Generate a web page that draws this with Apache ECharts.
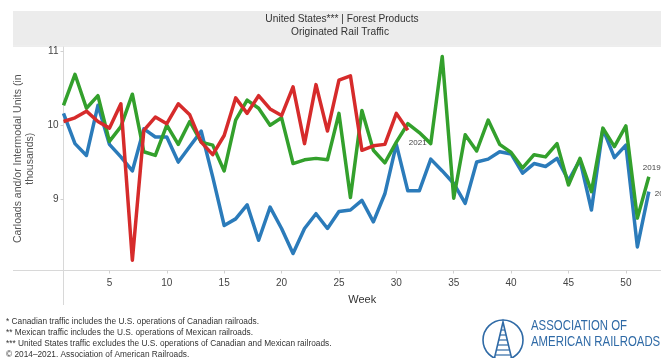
<!DOCTYPE html>
<html>
<head>
<meta charset="utf-8">
<script src="https://cdn.jsdelivr.net/npm/echarts@6/dist/echarts.min.js"></script>
<style>
html,body{margin:0;padding:0;background:#fff;}
#chart{width:661px;height:358px;}
</style>
</head>
<body>
<div id="chart"></div>
<script>
const weeks = [1,2,3,4,5,6,7,8,9,10,11,12,13,14,15,16,17,18,19,20,21,22,23,24,25,26,27,28,29,30,31,32,33,34,35,36,37,38,39,40,41,42,43,44,45,46,47,48,49,50,51,52];
const xTicks = [5,10,15,20,25,30,35,40,45,50];
const yTicks = [9,10,11];
const v2019 = [10.27,10.69,10.23,10.40,9.78,9.98,10.42,9.64,9.59,10.00,9.74,10.05,9.77,9.73,9.38,10.07,10.34,10.23,10.00,10.10,9.48,9.53,9.55,9.53,10.16,9.02,10.20,9.66,9.49,9.77,10.02,9.90,9.75,10.93,9.01,9.87,9.65,10.07,9.74,9.63,9.42,9.60,9.57,9.75,9.19,9.55,9.10,9.96,9.71,9.99,8.74,9.30];
const v2020 = [10.16,9.75,9.59,10.27,9.74,9.57,9.38,9.95,9.84,9.84,9.50,9.71,9.92,9.30,8.64,8.73,8.92,8.44,8.89,8.60,8.26,8.60,8.80,8.60,8.83,8.85,8.98,8.69,9.07,9.74,9.11,9.11,9.54,9.38,9.21,8.94,9.50,9.54,9.64,9.61,9.35,9.48,9.44,9.55,9.25,9.53,8.85,9.95,9.56,9.73,8.35,9.10];
const v2021 = [10.05,10.10,10.19,10.05,9.96,10.29,8.17,9.93,10.11,10.02,10.29,10.14,9.77,9.60,9.86,10.37,10.16,10.40,10.22,10.13,10.52,9.75,10.55,9.92,10.61,10.67,9.66,9.72,9.74,10.16,9.93];
const seriesNames = ['2020','2019','2021'];
const titleLines = ['United States*** | Forest Products','Originated Rail Traffic'];
const footnotes = [
  '* Canadian traffic includes the U.S. operations of Canadian railroads.',
  '** Mexican traffic includes the U.S. operations of Mexican railroads.',
  '*** United States traffic excludes the U.S. operations of Canadian and Mexican railroads.',
  '\u00a9 2014\u20132021. Association of American Railroads.'
];

const pairs = vals => vals.map((v,i)=>[weeks[i], v]);
const chart = echarts.init(document.getElementById('chart'), null, {renderer:'canvas'});
const FONT = 'Liberation Sans, Arial, sans-serif';
const lblStyle = {show:true, fontSize:8, color:'#444', fontFamily:FONT, distance:0};

const logoBlue = '#2f6aa6';
const logoFont = '15px "Liberation Sans", Arial, sans-serif';
const graphics = [
  {type:'rect', shape:{x:13,y:11,width:648,height:34}, style:{fill:'#ececec'}, z:0},
  {type:'line', shape:{x1:13,y1:46,x2:661,y2:46}, style:{stroke:'#dcdcdc',lineWidth:1}},
  {type:'text', x:342, y:19, style:{text:titleLines[0], font:'10.2px '+FONT, fill:'#333', textAlign:'center', textVerticalAlign:'middle'}},
  {type:'text', x:340, y:32, style:{text:titleLines[1], font:'10.2px '+FONT, fill:'#333', textAlign:'center', textVerticalAlign:'middle'}},
  {type:'line', shape:{x1:13,y1:270.5,x2:63,y2:270.5}, style:{stroke:'#d8d8d8',lineWidth:1}},
  {type:'line', shape:{x1:63.5,y1:271,x2:63.5,y2:305}, style:{stroke:'#d8d8d8',lineWidth:1}},
  // logo
  {type:'circle', shape:{cx:503,cy:340,r:20}, style:{fill:'none',stroke:logoBlue,lineWidth:1.6}},
  {type:'polyline', shape:{points:[[494,360],[503,322],[512,360]]}, style:{fill:'none',stroke:logoBlue,lineWidth:1.6}},
  {type:'line', shape:{x1:501,y1:330,x2:505,y2:330}, style:{stroke:logoBlue,lineWidth:1.2}},
  {type:'line', shape:{x1:500,y1:335,x2:506,y2:335}, style:{stroke:logoBlue,lineWidth:1.2}},
  {type:'line', shape:{x1:499,y1:340,x2:507,y2:340}, style:{stroke:logoBlue,lineWidth:1.2}},
  {type:'line', shape:{x1:498,y1:345,x2:508,y2:345}, style:{stroke:logoBlue,lineWidth:1.2}},
  {type:'line', shape:{x1:497,y1:350,x2:509,y2:350}, style:{stroke:logoBlue,lineWidth:1.2}},
  {type:'line', shape:{x1:496,y1:355,x2:510,y2:355}, style:{stroke:logoBlue,lineWidth:1.2}},
  {type:'text', x:531, y:326, scaleX:0.76, style:{text:'ASSOCIATION OF', font:logoFont, fill:logoBlue, textVerticalAlign:'middle'}},
  {type:'text', x:531, y:342, scaleX:0.76, style:{text:'AMERICAN RAILROADS', font:logoFont, fill:logoBlue, textVerticalAlign:'middle'}}
];
footnotes.forEach((t,i)=>{
  graphics.push({type:'text', x:6, y:322+i*11, style:{text:t, font:'8.3px '+FONT, fill:'#333', textVerticalAlign:'middle'}});
});

chart.setOption({
  animation:false,
  backgroundColor:'#fff',
  graphic: graphics,
  grid:{left:63.5, top:47, right:0, bottom:87.5, containLabel:false},
  xAxis:{
    type:'value', min:1, max:53.06,
    name:'Week', nameLocation:'middle', nameGap:24,
    nameTextStyle:{fontSize:11, color:'#333', fontFamily:FONT},
    axisLine:{show:true, lineStyle:{color:'#d8d8d8'}},
    axisTick:{show:true, length:3, customValues:xTicks, lineStyle:{color:'#d0d0d0'}},
    axisLabel:{customValues:xTicks, fontSize:10, color:'#444', fontFamily:FONT, margin:8},
    splitLine:{show:false}
  },
  yAxis:{
    type:'value', min:8.03, max:11.06,
    name:'Carloads and/or Intermodal Units (in\nthousands)', nameLocation:'middle', nameGap:21, nameRotate:90,
    nameTextStyle:{fontSize:10.5, color:'#555', fontFamily:FONT, lineHeight:12, align:'center'},
    axisLine:{show:true, lineStyle:{color:'#d8d8d8'}},
    axisTick:{show:true, length:3, customValues:yTicks, lineStyle:{color:'#d0d0d0'}},
    axisLabel:{customValues:yTicks, fontSize:10, color:'#444', fontFamily:FONT, margin:5},
    splitLine:{show:false}
  },
  series:[
    {name:seriesNames[0], type:'line', data:pairs(v2020), showSymbol:false, lineStyle:{width:3.5, color:'#2b7bba', join:'round'}, itemStyle:{color:'#2b7bba'},
     endLabel:Object.assign({}, lblStyle, {formatter:seriesNames[0], offset:[6,2]})},
    {name:seriesNames[1], type:'line', data:pairs(v2019), showSymbol:false, lineStyle:{width:3.5, color:'#33a02c', join:'round'}, itemStyle:{color:'#33a02c'},
     endLabel:Object.assign({}, lblStyle, {formatter:seriesNames[1], offset:[-6,-9]})},
    {name:seriesNames[2], type:'line', data:pairs(v2021), showSymbol:false, lineStyle:{width:3.5, color:'#d62b2b', join:'round'}, itemStyle:{color:'#d62b2b'},
     endLabel:Object.assign({}, lblStyle, {formatter:seriesNames[2], offset:[1,12]})}
  ]
});
</script>
</body>
</html>
